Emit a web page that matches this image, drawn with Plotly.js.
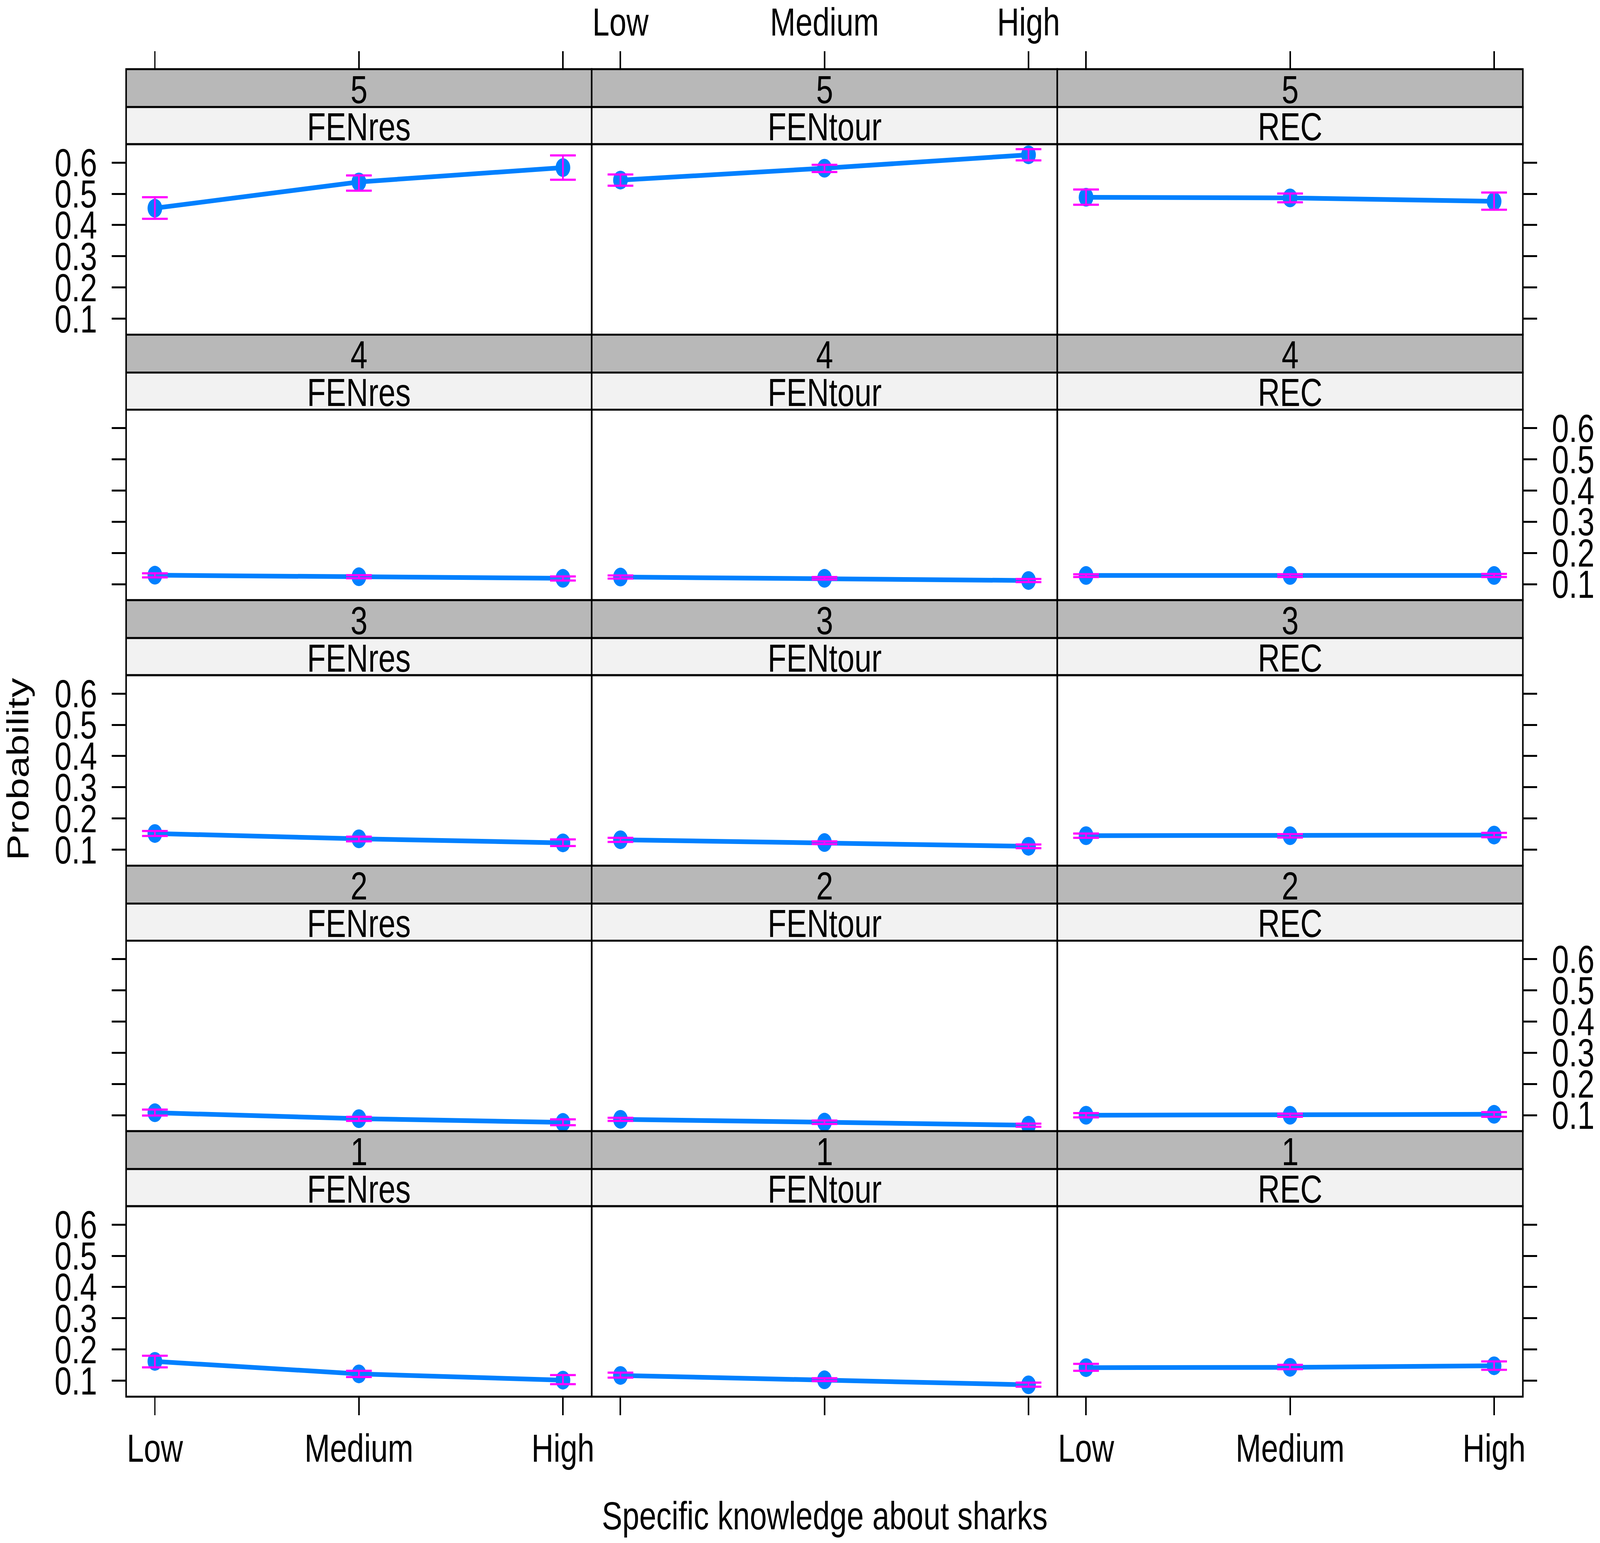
<!DOCTYPE html>
<html>
<head>
<meta charset="utf-8">
<script src="https://cdn.plot.ly/plotly-3.0.1.min.js"></script>
<style>
  html, body { margin: 0; padding: 0; background: #ffffff; overflow: hidden; }
  #chart { position: absolute; left: 0; top: 0; width: 5227px; height: 3949px; transform-origin: 0 0; }
</style>
</head>
<body>
<div id="chart"></div>
<script>
// ---------- data ----------
const knowledge = ["Low", "Medium", "High"];
const groups = ["FENres", "FENtour", "REC"];
const levels = ["5", "4", "3", "2", "1"];            // panel rows, top to bottom
const yTickVals = [0.1, 0.2, 0.3, 0.4, 0.5, 0.6];
const yTickText = ["0.1", "0.2", "0.3", "0.4", "0.5", "0.6"];

// fitted probability (rows follow `levels`, columns follow `knowledge`)
const prob_FENres = [
  [0.454, 0.538, 0.584],
  [0.129, 0.124, 0.119],
  [0.152, 0.135, 0.122],
  [0.108, 0.089, 0.077],
  [0.162, 0.122, 0.102]
];
const lower_FENres = [
  [0.420, 0.510, 0.545],
  [0.122, 0.119, 0.112],
  [0.144, 0.127, 0.112],
  [0.099, 0.082, 0.068],
  [0.143, 0.112, 0.089]
];
const upper_FENres = [
  [0.489, 0.559, 0.623],
  [0.135, 0.129, 0.125],
  [0.160, 0.142, 0.133],
  [0.118, 0.095, 0.087],
  [0.180, 0.132, 0.118]
];

const prob_FENtour = [
  [0.544, 0.582, 0.625],
  [0.123, 0.119, 0.112],
  [0.132, 0.123, 0.111],
  [0.087, 0.078, 0.068],
  [0.117, 0.103, 0.087]
];
const lower_FENtour = [
  [0.526, 0.570, 0.607],
  [0.118, 0.115, 0.107],
  [0.125, 0.118, 0.105],
  [0.082, 0.072, 0.063],
  [0.110, 0.099, 0.081]
];
const upper_FENtour = [
  [0.562, 0.593, 0.643],
  [0.128, 0.123, 0.117],
  [0.138, 0.127, 0.117],
  [0.092, 0.083, 0.073],
  [0.126, 0.108, 0.094]
];

const prob_REC = [
  [0.489, 0.487, 0.476],
  [0.128, 0.128, 0.128],
  [0.145, 0.145, 0.147],
  [0.100, 0.100, 0.103],
  [0.142, 0.143, 0.148]
];
const lower_REC = [
  [0.465, 0.473, 0.449],
  [0.123, 0.123, 0.123],
  [0.138, 0.139, 0.140],
  [0.093, 0.095, 0.095],
  [0.132, 0.137, 0.135]
];
const upper_REC = [
  [0.514, 0.501, 0.504],
  [0.132, 0.132, 0.133],
  [0.152, 0.150, 0.154],
  [0.107, 0.105, 0.110],
  [0.154, 0.151, 0.162]
];

const probByGroup  = [prob_FENres, prob_FENtour, prob_REC];
const lowerByGroup = [lower_FENres, lower_FENtour, lower_REC];
const upperByGroup = [upper_FENres, upper_FENtour, upper_REC];

// ---------- geometry in reference pixels; the whole figure is then fitted to the viewport ----------
const W = 5227, H = 3949;
const vw = window.innerWidth || W;
const vh = window.innerHeight || H;
const chartDiv = document.getElementById("chart");
chartDiv.style.transform = "scale(" + (vw / W) + "," + (vh / H) + ")";

const colX = [412, 1933, 3454, 4975];
const rowTop0 = 177, rowPitch = 679.5, darkH = 97, lightH = 95;
const FONT = "Liberation Sans, Arial, Helvetica, sans-serif";
const BLUE = "#0080FF", MAGENTA = "#FF00FF";
const NB = "\u00A0";
const fx = p => p / W;
const fy = p => 1 - p / H;
const tfont = { family: FONT, size: 100, color: "#000000" };

const traces = [];
const layout = {
  width: W, height: H,
  margin: { l: 0, r: 0, t: 0, b: 0, pad: 0 },
  paper_bgcolor: "#ffffff",
  plot_bgcolor: "rgba(0,0,0,0)",
  showlegend: false,
  font: tfont,
  shapes: [],
  annotations: []
};

for (let i = 0; i < levels.length; i++) {
  const top = rowTop0 + i * rowPitch;
  const panelTop = top + darkH + lightH;
  const panelBot = top + rowPitch;
  for (let j = 0; j < groups.length; j++) {
    const n = i * 3 + j + 1;
    const suf = n === 1 ? "" : String(n);
    const x0 = colX[j], x1 = colX[j + 1];

    const fit = probByGroup[j][i];
    const lo = lowerByGroup[j][i];
    const hi = upperByGroup[j][i];

    traces.push({
      type: "scatter", mode: "lines+markers",
      x: knowledge, y: fit,
      xaxis: "x" + suf, yaxis: "y" + suf,
      line: { color: BLUE, width: 12 },
      marker: { color: BLUE, size: 48 },
      cliponaxis: false, hoverinfo: "skip"
    });
    traces.push({
      type: "scatter", mode: "markers",
      x: knowledge, y: fit,
      xaxis: "x" + suf, yaxis: "y" + suf,
      marker: { color: "rgba(0,0,0,0)", size: 1 },
      error_y: {
        type: "data", symmetric: false,
        array: hi.map((v, k) => v - fit[k]),
        arrayminus: lo.map((v, k) => fit[k] - v),
        color: MAGENTA, thickness: 5.5, width: 42
      },
      cliponaxis: false, hoverinfo: "skip"
    });

    const xa = {
      domain: [fx(x0), fx(x1)],
      anchor: "y" + suf,
      type: "category",
      categoryorder: "array", categoryarray: knowledge,
      range: [-0.141, 2.141],
      showgrid: false, zeroline: false, showline: false,
      ticks: (i === 0 || i === levels.length - 1) ? "outside" : "",
      ticklen: 46, tickwidth: 5, tickcolor: "#000000",
      tickfont: tfont,
      showticklabels: (i === 0 && j === 1) || (i === levels.length - 1 && j !== 1),
      side: i === 0 ? "top" : "bottom",
      fixedrange: true
    };
    if (i === 0) { xa.anchor = "free"; xa.position = fy(top); }
    layout["xaxis" + suf] = xa;

    const rightSide = j === 2;
    layout["yaxis" + suf] = {
      domain: [fy(panelBot), fy(panelTop)],
      anchor: "x" + suf,
      range: [0.049, 0.659],
      tickmode: "array", tickvals: yTickVals,
      ticktext: yTickText.map(t => rightSide ? NB + t : t + NB),
      showgrid: false, zeroline: false, showline: false,
      ticks: (j === 0 || j === 2) ? "outside" : "",
      ticklen: 46, tickwidth: 5, tickcolor: "#000000",
      tickfont: tfont,
      side: rightSide ? "right" : "left",
      showticklabels: (j === 0 && i % 2 === 0) || (j === 2 && i % 2 === 1),
      fixedrange: true
    };

    // strips and panel frame
    layout.shapes.push({
      type: "rect", xref: "paper", yref: "paper", layer: "above",
      x0: fx(x0), x1: fx(x1), y0: fy(top + darkH), y1: fy(top),
      fillcolor: "#B8B8B8", line: { color: "#000000", width: 5 }
    });
    layout.shapes.push({
      type: "rect", xref: "paper", yref: "paper", layer: "above",
      x0: fx(x0), x1: fx(x1), y0: fy(panelTop), y1: fy(top + darkH),
      fillcolor: "#F2F2F2", line: { color: "#000000", width: 5 }
    });
    layout.shapes.push({
      type: "rect", xref: "paper", yref: "paper", layer: "above",
      x0: fx(x0), x1: fx(x1), y0: fy(panelBot), y1: fy(panelTop),
      fillcolor: "rgba(0,0,0,0)", line: { color: "#000000", width: 5 }
    });

    layout.annotations.push({
      xref: "paper", yref: "paper", showarrow: false,
      x: fx((x0 + x1) / 2), y: fy(top + darkH / 2 + 3),
      xanchor: "center", yanchor: "middle",
      text: levels[i], font: tfont
    });
    layout.annotations.push({
      xref: "paper", yref: "paper", showarrow: false,
      x: fx((x0 + x1) / 2), y: fy(top + darkH + lightH / 2 + 3),
      xanchor: "center", yanchor: "middle",
      text: groups[j], font: tfont
    });
  }
}

// axis titles
layout.annotations.push({
  xref: "paper", yref: "paper", showarrow: false,
  x: fx(58), y: fy(1969), xanchor: "center", yanchor: "middle",
  textangle: -90, text: "Probability",
  font: tfont
});
layout.annotations.push({
  xref: "paper", yref: "paper", showarrow: false,
  x: fx((colX[0] + colX[3]) / 2), y: fy(3879), xanchor: "center", yanchor: "middle",
  text: "Specific knowledge about sharks",
  font: tfont
});

Plotly.newPlot(chartDiv, traces, layout, { staticPlot: true, displayModeBar: false });
</script>
</body>
</html>
